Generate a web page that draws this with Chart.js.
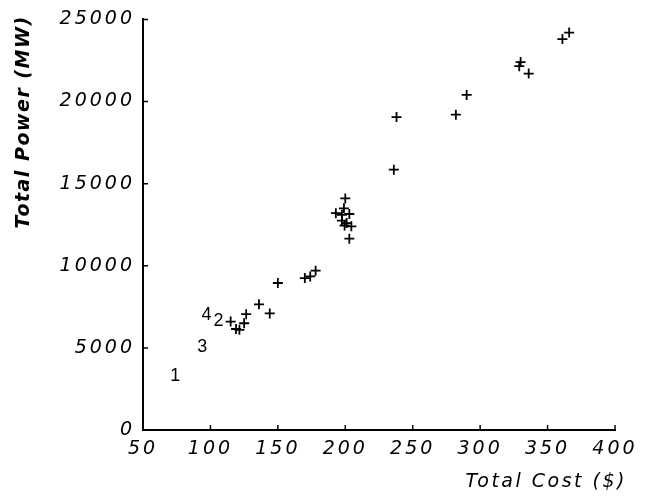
<!DOCTYPE html>
<html>
<head>
<meta charset="utf-8">
<script src="https://cdn.jsdelivr.net/npm/chart.js@4"></script>
<style>
  html, body { margin: 0; padding: 0; background: #fff; }
</style>
</head>
<body>
<canvas id="powerChart" width="671" height="497"></canvas>
<script>
// total cost ($) vs total power (MW), one "+" per run
const costs = [
  366, 361,
  330, 329, 336,
  290, 282, 238, 236,
  200, 199, 193, 197.5, 203, 197.5, 201, 204.5, 199.5, 203,
  170, 174, 178,
  150, 136, 144,
  115, 119, 121.5, 125, 126.5
];
const powers = [
  24200, 23800,
  22400, 22150, 21700,
  20400, 19200, 19050, 15850,
  14100, 13500, 13200, 13100, 13150, 12750, 12600, 12400, 12450, 11650,
  9250, 9350, 9700,
  8950, 7650, 7100,
  6600, 6150, 6100, 6500, 7050
];

// numbered cases drawn as text
const labelTexts = ['1', '2', '3', '4'];
const labelCosts = [74, 106, 94, 97];
const labelPowers = [3300, 6650, 5050, 7000];

const xTickValues = [50, 100, 150, 200, 250, 300, 350, 400];
const yTickValues = [0, 5000, 10000, 15000, 20000, 25000];
const xTitle = 'Total Cost ($)';
const yTitle = 'Total Power (MW)';

const toPoints = (xs, ys) => xs.map((v, i) => ({ x: v, y: ys[i] }));
const FAMILY = '"DejaVu Sans", sans-serif';

// wide-set labels like the original plot
const spacing = {
  id: 'spacing',
  beforeLayout(chart) { chart.ctx.letterSpacing = '3px'; },
  beforeDraw(chart) { chart.ctx.letterSpacing = '3px'; }
};

const inwardTicks = {
  id: 'inwardTicks',
  afterDraw(chart) {
    const { ctx, scales: { x, y } } = chart;
    ctx.save();
    ctx.strokeStyle = '#000';
    ctx.lineWidth = 1.5;
    ctx.beginPath();
    x.ticks.forEach(t => {
      const px = x.getPixelForValue(t.value);
      ctx.moveTo(px, x.top);
      ctx.lineTo(px, x.top - 5);
    });
    y.ticks.forEach(t => {
      const py = y.getPixelForValue(t.value);
      ctx.moveTo(y.right, py);
      ctx.lineTo(y.right + 5, py);
    });
    ctx.stroke();
    ctx.restore();
  }
};

const axisTitles = {
  id: 'axisTitles',
  afterDraw(chart) {
    const { ctx, scales: { x, y } } = chart;
    ctx.save();
    ctx.fillStyle = '#000';
    ctx.letterSpacing = '2.5px';
    ctx.textBaseline = 'middle';
    ctx.textAlign = 'right';
    ctx.font = `oblique 19px ${FAMILY}`;
    ctx.fillText(xTitle, x.right + 12, x.bottom - 15);
    ctx.translate(24, y.top - 2);
    ctx.rotate(-Math.PI / 2);
    ctx.letterSpacing = '1.5px';
    ctx.font = `oblique bold 19px ${FAMILY}`;
    ctx.fillText(yTitle, 2, 0);
    ctx.restore();
  }
};

const caseLabels = {
  id: 'caseLabels',
  afterDatasetsDraw(chart) {
    const { ctx } = chart;
    const meta = chart.getDatasetMeta(1);
    ctx.save();
    ctx.letterSpacing = '0px';
    ctx.fillStyle = '#000';
    ctx.font = '18px "Liberation Sans", Arial, sans-serif';
    ctx.textAlign = 'center';
    ctx.textBaseline = 'middle';
    meta.data.forEach((el, i) => ctx.fillText(labelTexts[i], el.x, el.y));
    ctx.restore();
  }
};

const tickFont = { family: FAMILY, size: 19, style: 'oblique' };

new Chart(document.getElementById('powerChart').getContext('2d'), {
  type: 'scatter',
  data: {
    datasets: [{
      data: toPoints(costs, powers),
      pointStyle: 'cross',
      pointRadius: 5,
      borderColor: '#000',
      borderWidth: 1.8
    }, {
      data: toPoints(labelCosts, labelPowers),
      pointRadius: 0,
      borderWidth: 0
    }]
  },
  options: {
    responsive: false,
    devicePixelRatio: 1,
    animation: false,
    layout: { padding: { top: 19, right: 56, left: 0, bottom: 0 } },
    plugins: {
      legend: { display: false },
      tooltip: { enabled: false }
    },
    scales: {
      x: {
        type: 'linear',
        min: 50,
        max: 400,
        afterBuildTicks: s => { s.ticks = xTickValues.map(v => ({ value: v })); },
        afterFit: s => { s.height = 67; },
        grid: { drawOnChartArea: false, drawTicks: false },
        border: { display: true, color: '#000', width: 2 },
        ticks: { color: '#000', font: tickFont, padding: 8, maxRotation: 0, callback: v => String(v) }
      },
      y: {
        type: 'linear',
        min: 0,
        max: 25000,
        afterBuildTicks: s => { s.ticks = yTickValues.map(v => ({ value: v })); },
        afterFit: s => { s.width = 143; },
        grid: { drawOnChartArea: false, drawTicks: false },
        border: { display: true, color: '#000', width: 2 },
        ticks: { color: '#000', font: tickFont, padding: 8, callback: v => String(v) }
      }
    }
  },
  plugins: [spacing, inwardTicks, axisTitles, caseLabels]
});
</script>
</body>
</html>
